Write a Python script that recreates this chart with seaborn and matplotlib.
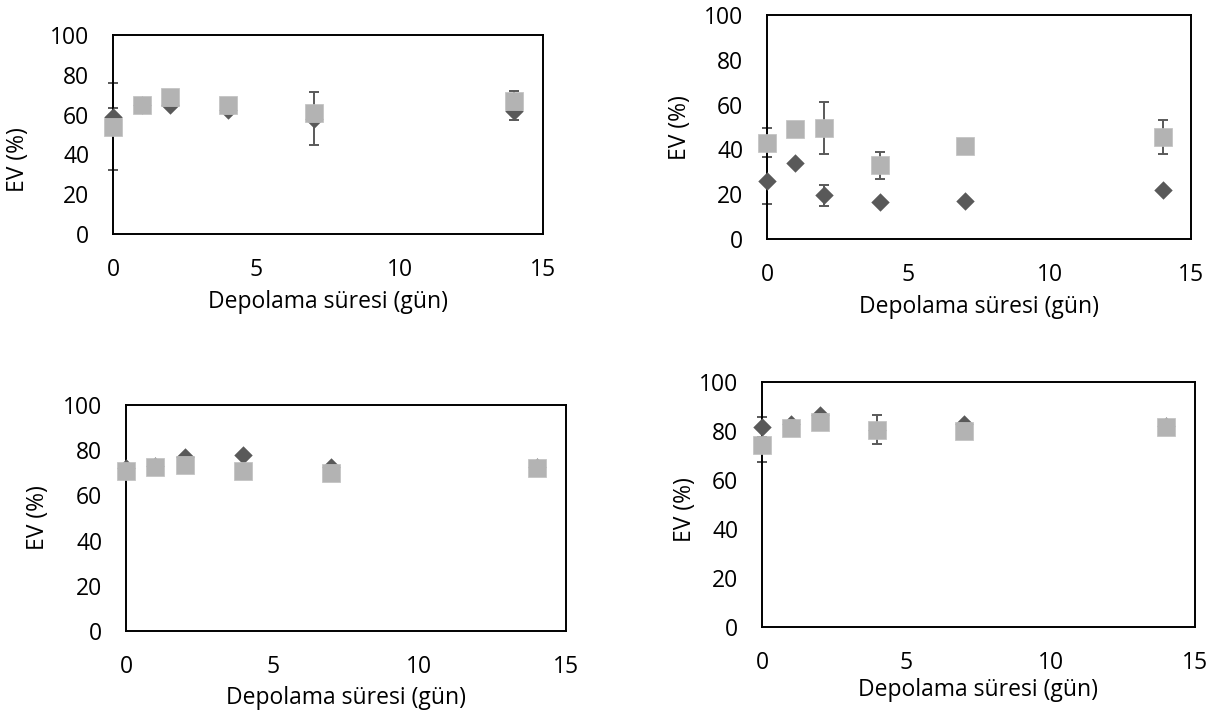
import seaborn as sns
import matplotlib.pyplot as plt
import pandas as pd

# storage days
days = [0, 1, 2, 4, 7, 14]

# panel 1 (top left)
p1_dia = [59, 65, 65, 62.5, 58, 62]
p1_dia_err = [4.5, 3, 0, 0, 13.5, 4.5]
p1_sq = [54, 65, 69, 65, 61, 67]
p1_sq_err = [22, 0, 0, 0, 0, 5]

# panel 2 (top right)
p2_dia = [26, 34, 19.5, 16.5, 17, 22]
p2_dia_err = [10.5, 0, 4.7, 0, 0, 0]
p2_sq = [43, 49, 49.5, 33, 41.5, 45.5]
p2_sq_err = [6.5, 0, 11.5, 6, 0, 7.5]

# panel 3 (bottom left)
p3_dia = [72, 73, 77, 78, 72.5, 72.5]
p3_dia_err = [0, 0, 0, 0, 0, 0]
p3_sq = [71, 72.5, 73.5, 71, 70, 72]
p3_sq_err = [0, 0, 0, 0, 3.5, 0]

# panel 4 (bottom right)
p4_dia = [81.7, 82.8, 86.5, 80.5, 82.9, 82]
p4_dia_err = [4, 0, 0, 0, 0, 0]
p4_sq = [74.2, 81.4, 83.7, 80.5, 79.8, 81.7]
p4_sq_err = [7, 0, 0, 6, 0, 0]

yticks = [0, 20, 40, 60, 80, 100]
xticks = [0, 5, 10, 15]

sns.set_theme(style='white')
plt.rcParams['font.family'] = ['Open Sans', 'DejaVu Sans']

dark = '#595959'
light = '#b3b3b3'
W, H = 1224, 722
fs = 16.5

fig = plt.figure(figsize=(W / 100, H / 100), dpi=100)

# axes boxes in pixels: left, top, width, height,
# xlabel centre y, ylabel centre x, ylabel centre y
boxes = [
    (113, 35, 430, 199, 302, 18, 160),
    (767, 15, 424, 224, 307, 680, 128),
    (126, 405, 440, 226, 698, 38, 518),
    (762, 382, 433, 245, 690, 685, 510),
]
panels = [
    (p1_dia, p1_dia_err, p1_sq, p1_sq_err),
    (p2_dia, p2_dia_err, p2_sq, p2_sq_err),
    (p3_dia, p3_dia_err, p3_sq, p3_sq_err),
    (p4_dia, p4_dia_err, p4_sq, p4_sq_err),
]

for (l, t, w, h, xl_y, yl_x, yl_y), (dia, dia_err, sq, sq_err) in zip(boxes, panels):
    ax = fig.add_axes([l / W, 1 - (t + h) / H, w / W, h / H])
    df = pd.DataFrame({'day': days, 'dia': dia, 'dia_err': dia_err,
                       'sq': sq, 'sq_err': sq_err})

    for col in ['dia', 'sq']:
        e = df[df[col + '_err'] > 0]
        if len(e):
            eb = ax.errorbar(e['day'], e[col], yerr=e[col + '_err'], fmt='none',
                             ecolor=dark, elinewidth=1.4, capsize=3.5,
                             capthick=1.4, zorder=2)
            for art in eb.lines[1] + eb.lines[2]:
                art.set_clip_on(False)

    sns.scatterplot(data=df, x='day', y='dia', marker='D', s=88, color=dark,
                    edgecolor=dark, linewidth=0, ax=ax, zorder=3)
    sns.scatterplot(data=df, x='day', y='sq', marker='s', s=170, color=light,
                    edgecolor='#c0c0c0', linewidth=0.5, ax=ax, zorder=4)
    for c in ax.collections:
        c.set_clip_on(False)

    ax.set_xlim(0, 15)
    ax.set_ylim(0, 100)
    ax.set_xticks(xticks)
    ax.set_yticks(yticks)
    ax.tick_params(length=0, labelsize=fs, colors='black', pad=17)
    for sp in ax.spines.values():
        sp.set_color('black')
        sp.set_linewidth(1.4)
    ax.set_xlabel('Depolama süresi (gün)', fontsize=fs, color='black', va='center')
    ax.set_ylabel('EV (%)', fontsize=fs, color='black', va='center')
    ax.xaxis.set_label_coords(0.5, -(xl_y - (t + h)) / h)
    ax.yaxis.set_label_coords(-(l - yl_x) / w, 1 - (yl_y - t) / h)

fig.savefig('out.png', dpi=100)
